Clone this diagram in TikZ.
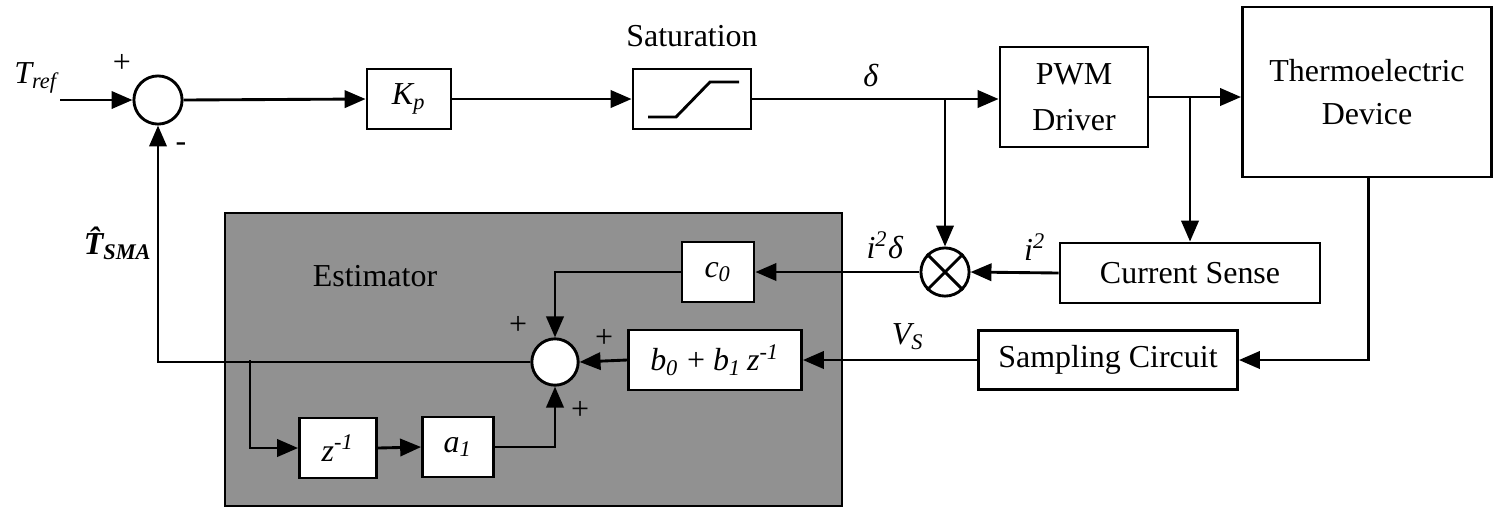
\documentclass[tikz,border=0pt]{standalone}
\usepackage{fontspec}
\IfFontExistsTF{LiberationSerif-Regular.ttf}{%
   \setmainfont{LiberationSerif}[Extension=.ttf, UprightFont=*-Regular,
      BoldFont=*-Bold, ItalicFont=*-Italic, BoldItalicFont=*-BoldItalic]}{%
   \setmainfont{Liberation Serif}}
\usetikzlibrary{arrows.meta, positioning, calc}
\definecolor{estgray}{RGB}{145,145,145}

\tikzset{
  block/.style={draw, line width=0.9pt, fill=white, inner sep=0pt, align=center},
  sumnode/.style={draw, circle, line width=0.9pt, fill=white, minimum size=0.53cm, inner sep=0pt},
  sig/.style={line width=0.9pt, -{Triangle[length=2.3mm,width=1.9mm]}},
  wire/.style={line width=0.9pt},
  sgn/.style={inner sep=0pt}
}

\begin{document}
\begin{tikzpicture}[x=0.011cm, y=-0.011cm]
   \useasboundingbox (0,0) rectangle (1495,507);
   % Estimator background
   \draw[line width=0.9pt, fill=estgray] (225,213) rectangle (842,506);
   \node (estlabel) at (375,276) {Estimator};

   % Forward path
   \node[sumnode] (sum1) at (158,100) {};
   \node[block, minimum width=0.924cm, minimum height=0.66cm] (kp) at (409,99) {\textit{K\textsubscript{p}}};
   \node[block, minimum width=1.298cm, minimum height=0.66cm] (sat) at (692,99) {};
   \node[above=0.1cm of sat] (satlabel) {Saturation};
   \node[block, minimum width=1.628cm, minimum height=1.1cm] (pwm) at (1074,97) {PWM\\[0.08cm]Driver};
   \node[block, minimum width=2.74cm, minimum height=1.87cm] (ted) at (1367,92) {Thermoelectric\\[0.06cm]Device};

   % Feedback blocks
   \node[block, minimum width=2.86cm, minimum height=0.66cm] (cs) at (1190,273) {Current Sense};
   \node[block, minimum width=2.849cm, minimum height=0.65cm] (samp) at (1108,360) {Sampling Circuit};
   \node[sumnode] (mult) at (945,272) {};
   \node[block, minimum width=0.792cm, minimum height=0.66cm] (c0) at (718,272) {\textit{c\textsubscript{0}}};
   \node[block, minimum width=1.903cm, minimum height=0.66cm] (bz) at (715,360) {\textit{b\textsubscript{0}} + \textit{b\textsubscript{1}\,z\textsuperscript{-1}}};
   \node[sumnode, minimum size=0.51cm] (sum2) at (555,362) {};
   \node[block, minimum width=0.847cm, minimum height=0.66cm] (zinv) at (338,448) {\textit{z\textsuperscript{-1}}};
   \node[block, minimum width=0.781cm, minimum height=0.66cm] (a1) at (458,447) {\textit{a\textsubscript{1}}};

   % Saturation curve
   \draw[wire] ($(sat.center)+(-44,18)$) -- ++(28,0) -- ++(34,-35) -- ++(29,0);
   % Multiplier cross
   \draw[wire] (mult.north east) -- (mult.south west);
   \draw[wire] (mult.north west) -- (mult.south east);

   % Signal labels
   \coordinate (tin) at (60,100);
   \node (tref) at (36,78) {\textit{T\textsubscript{ref}}};
   \node (tsma) at (118,243) {\bfseries\itshape \^{T}\textsubscript{SMA}};
   \node (dlabel) at (871,75) {\textit{δ}};
   \node (idlabel) at (885,245) {\textit{i\textsuperscript{2}δ}};
   \node (ilabel) at (1035,247) {\textit{i\textsuperscript{2}}};
   \node (vslabel) at (908,337) {\textit{V\textsubscript{S}}};
   \node[sgn] (p1) at (122,63) {+};
   \node[sgn] (m1) at (181,147) {-};
   \node[sgn] (p2) at (518,325) {+};
   \node[sgn] (p3) at (604,338) {+};
   \node[sgn] (p4) at (580,410) {+};

   % Branch points
   \coordinate (dtap) at (sat.east -| mult);
   \coordinate (itap) at (pwm.east -| cs);
   \coordinate (ytap) at (250,360);

   % Connectors
   \draw[sig] (tin) -- (sum1.west);
   \draw[sig] (sum1.east) -- (kp.west);
   \draw[sig] (kp.east) -- (sat.west);
   \draw[sig] (sat.east) -- (sat.east -| pwm.west);
   \draw[sig] (pwm.east) -- (pwm.east -| ted.west);
   \draw[sig] (dtap) -- (mult.north);
   \draw[sig] (itap) -- (cs.north);
   \draw[sig] ([xshift=0.02cm]ted.south) |- (samp.east);
   \draw[sig] (cs.west) -- (mult.east);
   \draw[sig] (mult.west) -- (c0.east);
   \draw[sig] (c0.west) -| (sum2.north);
   \draw[sig] (samp.west) -- (bz.east);
   \draw[sig] (bz.west) -- (sum2.east);
   \draw[sig] (sum2.west) -| (sum1.south);
   \draw[sig] (ytap) |- (zinv.west);
   \draw[sig] (zinv.east) -- (a1.west);
   \draw[sig] (a1.east) -| (sum2.south);
\end{tikzpicture}
\end{document}
